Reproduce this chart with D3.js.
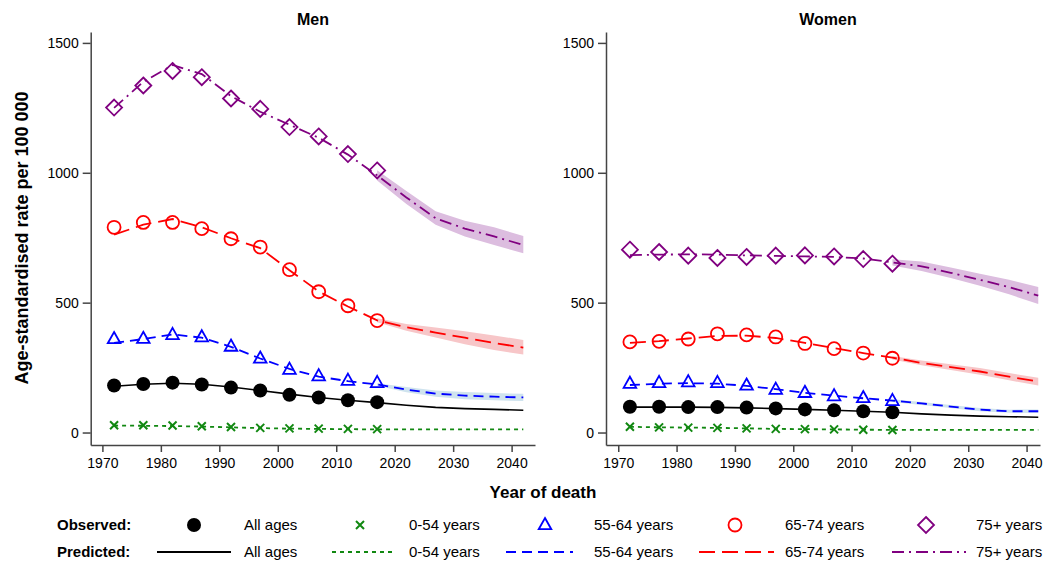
<!DOCTYPE html>
<html>
<head>
<meta charset="utf-8">
<script src="https://cdn.jsdelivr.net/npm/d3@7"></script>
<style>
  body { margin: 0; background: #fff; }
  svg text { font-family: "Liberation Sans", Arial, sans-serif; fill: #000; }
</style>
</head>
<body>
<div id="chart"></div>
<script>
// Observed years and predicted years
const obsYears = [1972, 1977, 1982, 1987, 1992, 1997, 2002, 2007, 2012, 2017];
const predYears = [1972, 1977, 1982, 1987, 1992, 1997, 2002, 2007, 2012, 2017, 2022, 2027, 2032, 2037, 2042];
const bandYears = [2017, 2022, 2027, 2032, 2037, 2042];
const yTicks = [0, 500, 1000, 1500];
const xTicks = [1970, 1980, 1990, 2000, 2010, 2020, 2030, 2040];
const groups = ["All ages", "0-54 years", "55-64 years", "65-74 years", "75+ years"];

// Men
const menObsAll = [181, 187, 192, 185, 173, 162, 145, 135, 124, 117];
const menObs054 = [28, 28, 27, 24, 21, 18, 16, 15, 14, 13];
const menObs5564 = [360, 361, 376, 367, 331, 285, 242, 217, 200, 191];
const menObs6574 = [790, 809, 809, 785, 746, 714, 627, 542, 488, 431];
const menObs75 = [1251, 1336, 1392, 1368, 1286, 1246, 1176, 1140, 1072, 1009];

const menPredAll = [178, 186, 190, 186, 175, 162, 148, 135, 124, 115, 105, 97, 92, 89, 86];
const menPred054 = [27, 26, 25, 23, 20, 17, 15, 14, 13, 12, 12, 12, 12, 12, 12];
const menPred5564 = [345, 360, 378, 365, 330, 285, 245, 215, 198, 185, 165, 150, 142, 138, 135];
const menPred6574 = [762, 800, 822, 790, 748, 710, 625, 543, 485, 432, 405, 385, 365, 345, 327];
const menPred75 = [1250, 1350, 1415, 1380, 1295, 1235, 1185, 1135, 1070, 990, 905, 825, 785, 755, 722];

const menLo5564 = [180, 155, 138, 128, 124, 121];
const menHi5564 = [190, 175, 162, 156, 152, 149];
const menLo6574 = [425, 392, 366, 340, 318, 300];
const menHi6574 = [440, 418, 404, 390, 374, 356];
const menLo75 = [970, 880, 800, 755, 722, 690];
const menHi75 = [1010, 930, 852, 815, 790, 757];

// Women
const womenObsAll = [99, 99, 98, 98, 96, 93, 89, 86, 82, 78];
const womenObs054 = [22, 20, 19, 18, 16, 14, 13, 12, 11, 10];
const womenObs5564 = [188, 191, 194, 191, 181, 165, 153, 140, 133, 122];
const womenObs6574 = [349, 351, 360, 380, 376, 368, 343, 323, 306, 286];
const womenObs75 = [704, 695, 681, 672, 676, 681, 682, 678, 668, 650];

const womenPredAll = [98, 98, 98, 97, 95, 92, 89, 86, 82, 78, 72, 67, 63, 61, 59];
const womenPred054 = [22, 20, 19, 18, 16, 14, 13, 12, 11, 10, 10, 10, 10, 10, 10];
const womenPred5564 = [183, 188, 190, 188, 180, 167, 153, 142, 132, 123, 112, 100, 88, 82, 82];
const womenPred6574 = [345, 352, 362, 372, 373, 364, 345, 325, 306, 288, 268, 252, 235, 215, 196];
const womenPred75 = [683, 685, 686, 685, 682, 680, 678, 676, 670, 655, 640, 615, 588, 560, 527];

const womenLo5564 = [118, 106, 94, 82, 76, 75];
const womenHi5564 = [128, 118, 106, 94, 88, 89];
const womenLo6574 = [281, 259, 241, 222, 201, 181];
const womenHi6574 = [295, 277, 263, 248, 229, 211];
const womenLo75 = [643, 622, 595, 565, 532, 495];
const womenHi75 = [667, 658, 635, 611, 588, 560];

const colors = ["#000000", "#118811", "#0000ff", "#ff0000", "#800080"];
const bandColors = [null, null, "#cfe3ee", "#f7c6c8", "#dcbddf"];
const dashes = [null, "4,4", "10,6", "16,7", "12,5,2,5"];

const svg = d3.select("#chart").append("svg")
  .attr("width", 1048).attr("height", 564);

const y = d3.scaleLinear().domain([-48, 1542]).range([445, 32]);

function drawMarker(g, i, cx, cy) {
  const c = colors[i];
  if (i === 0) {
    g.append("circle").attr("cx", cx).attr("cy", cy).attr("r", 7).attr("fill", c);
  } else if (i === 1) {
    const s = 4;
    g.append("path")
      .attr("d", `M${cx - s},${cy - s}L${cx + s},${cy + s}M${cx - s},${cy + s}L${cx + s},${cy - s}`)
      .attr("stroke", c).attr("stroke-width", 2).attr("fill", "none");
  } else if (i === 2) {
    const s = 7;
    g.append("path")
      .attr("d", `M${cx},${cy - s}L${cx + s * 0.9},${cy + s * 0.6}L${cx - s * 0.9},${cy + s * 0.6}Z`)
      .attr("stroke", c).attr("stroke-width", 1.8).attr("fill", "none");
  } else if (i === 3) {
    g.append("circle").attr("cx", cx).attr("cy", cy).attr("r", 6.5)
      .attr("stroke", c).attr("stroke-width", 1.8).attr("fill", "none");
  } else {
    const s = 8;
    g.append("path")
      .attr("d", `M${cx},${cy - s}L${cx + s},${cy}L${cx},${cy + s}L${cx - s},${cy}Z`)
      .attr("stroke", c).attr("stroke-width", 1.8).attr("fill", "none");
  }
}

function drawPanel(opts) {
  const x = d3.scaleLinear().domain(opts.xDomain).range(opts.xRange);
  const g = svg.append("g");

  // bands
  opts.bands.forEach((b, i) => {
    if (!b) return;
    const area = d3.area()
      .x((d, k) => x(bandYears[k]))
      .y0((d, k) => y(b[0][k]))
      .y1((d, k) => y(b[1][k]));
    g.append("path").datum(b[0]).attr("d", area).attr("fill", bandColors[i]);
  });

  // predicted lines
  const line = d3.line().x((d, k) => x(predYears[k])).y((d) => y(d));
  opts.pred.forEach((p, i) => {
    g.append("path").datum(p).attr("d", line)
      .attr("fill", "none")
      .attr("stroke", colors[i])
      .attr("stroke-width", i === 0 ? 1.6 : 1.8)
      .attr("stroke-dasharray", dashes[i]);
  });

  // observed markers
  opts.obs.forEach((o, i) => {
    o.forEach((v, k) => drawMarker(g, i, x(obsYears[k]), y(v)));
  });

  // axes
  const yAxis = g.append("g")
    .attr("transform", `translate(${opts.xRange[0]},0)`)
    .call(d3.axisLeft(y).tickValues(yTicks).tickFormat(d3.format("d")).tickSize(8).tickSizeOuter(0).tickPadding(4));
  const xAxis = g.append("g")
    .attr("transform", "translate(0,445)")
    .call(d3.axisBottom(x).tickValues(xTicks).tickFormat(d3.format("d")).tickSize(7).tickSizeOuter(0).tickPadding(6));
  [yAxis, xAxis].forEach((a) => {
    a.selectAll("path,line").attr("stroke", "#444").attr("stroke-width", 1.5);
    a.selectAll("text").attr("font-size", 14).attr("font-family", "Liberation Sans, Arial, sans-serif");
  });

  g.append("text")
    .attr("x", opts.titleX).attr("y", 25)
    .attr("text-anchor", "middle")
    .attr("font-weight", "bold").attr("font-size", 16)
    .text(opts.title);
}

drawPanel({
  title: "Men", titleX: 313,
  xDomain: [1968, 2044], xRange: [90.7, 535],
  obs: [menObsAll, menObs054, menObs5564, menObs6574, menObs75],
  pred: [menPredAll, menPred054, menPred5564, menPred6574, menPred75],
  bands: [null, null, [menLo5564, menHi5564], [menLo6574, menHi6574], [menLo75, menHi75]]
});

drawPanel({
  title: "Women", titleX: 828,
  xDomain: [1967.9, 2042.3], xRange: [606, 1040],
  obs: [womenObsAll, womenObs054, womenObs5564, womenObs6574, womenObs75],
  pred: [womenPredAll, womenPred054, womenPred5564, womenPred6574, womenPred75],
  bands: [null, null, [womenLo5564, womenHi5564], [womenLo6574, womenHi6574], [womenLo75, womenHi75]]
});

// axis titles
svg.append("text")
  .attr("transform", "translate(28,238) rotate(-90)")
  .attr("text-anchor", "middle")
  .attr("font-weight", "bold").attr("font-size", 18)
  .text("Age-standardised rate per 100 000");

svg.append("text")
  .attr("x", 543).attr("y", 498)
  .attr("text-anchor", "middle")
  .attr("font-weight", "bold").attr("font-size", 17)
  .text("Year of death");

// legend
const legend = svg.append("g");
const legendMarkerX = [194, 360, 545, 735, 926];
const legendTextX = [244, 409, 594, 785, 976];
const legendLineX = [[157, 231], [332, 394], [506, 573], [699, 774], [892, 966]];

legend.append("text").attr("x", 57).attr("y", 530)
  .attr("font-weight", "bold").attr("font-size", 15).text("Observed:");
legend.append("text").attr("x", 57).attr("y", 557)
  .attr("font-weight", "bold").attr("font-size", 15).text("Predicted:");

groups.forEach((name, i) => {
  drawMarker(legend, i, legendMarkerX[i], 525);
  legend.append("text").attr("x", legendTextX[i]).attr("y", 530)
    .attr("font-size", 15).text(name);
  legend.append("line")
    .attr("x1", legendLineX[i][0]).attr("x2", legendLineX[i][1])
    .attr("y1", 552).attr("y2", 552)
    .attr("stroke", colors[i]).attr("stroke-width", 1.8)
    .attr("stroke-dasharray", dashes[i]);
  legend.append("text").attr("x", legendTextX[i]).attr("y", 557)
    .attr("font-size", 15).text(name);
});
</script>
</body>
</html>
